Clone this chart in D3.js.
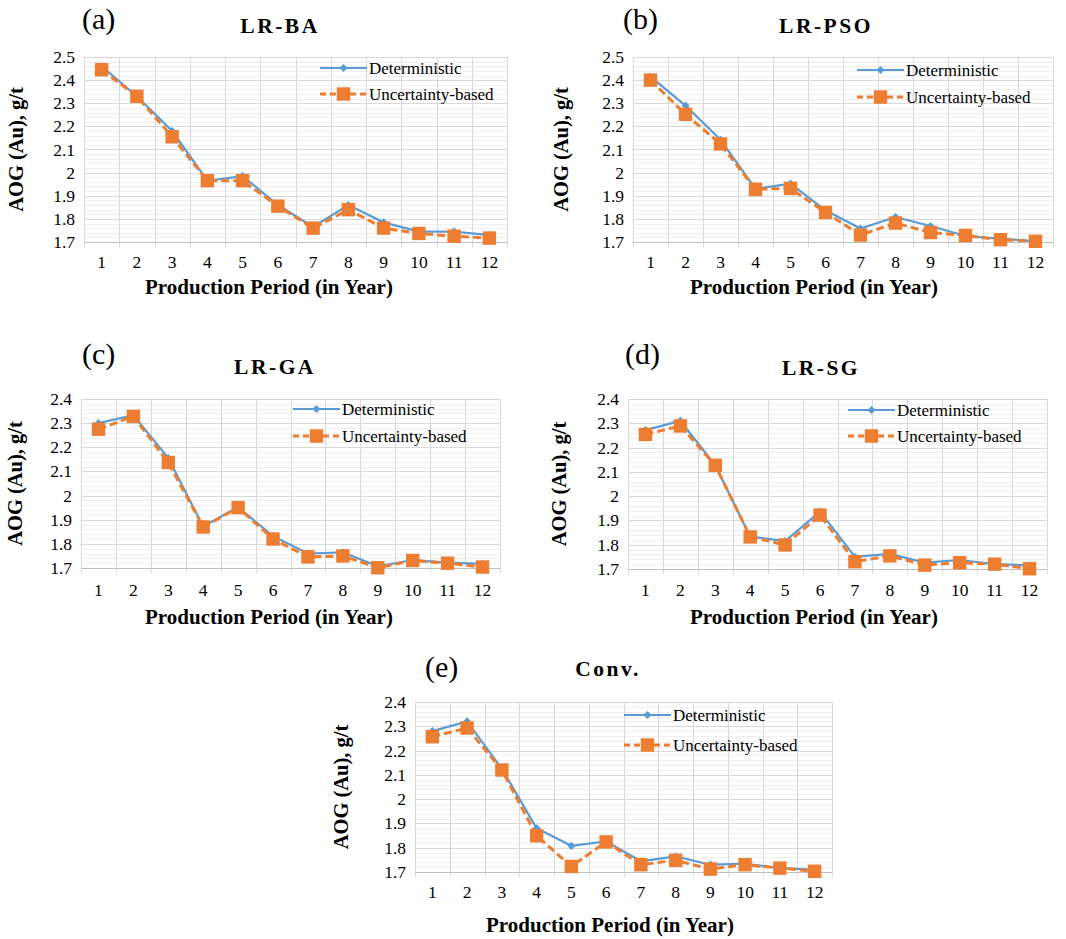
<!DOCTYPE html>
<html>
<head>
<meta charset="utf-8">
<script src="https://cdn.jsdelivr.net/npm/d3@7/dist/d3.min.js"></script>
<style>
  html, body { margin: 0; padding: 0; background: #ffffff; }
  svg { display: block; }
  text { font-family: "Liberation Serif", "Times New Roman", serif; fill: #000; }
</style>
</head>
<body>
<svg id="chart" width="1066" height="939" font-family="Liberation Serif"></svg>
<script>
// Production periods (years)
const periods = [1, 2, 3, 4, 5, 6, 7, 8, 9, 10, 11, 12];

// Average ore grade, Au (g/t), per method
const detBA  = [2.46, 2.33, 2.18, 1.965, 1.985, 1.86, 1.765, 1.86, 1.785, 1.745, 1.745, 1.73];
const uncBA  = [2.445, 2.33, 2.155, 1.965, 1.965, 1.855, 1.76, 1.84, 1.76, 1.737, 1.725, 1.717];

const detPSO = [2.415, 2.29, 2.142, 1.93, 1.952, 1.837, 1.758, 1.808, 1.769, 1.726, 1.714, 1.704];
const uncPSO = [2.40, 2.252, 2.124, 1.928, 1.932, 1.828, 1.73, 1.782, 1.741, 1.728, 1.71, 1.703];

const detGA  = [2.30, 2.333, 2.155, 1.872, 1.952, 1.832, 1.76, 1.765, 1.707, 1.733, 1.722, 1.717];
const uncGA  = [2.275, 2.328, 2.137, 1.87, 1.95, 1.82, 1.746, 1.75, 1.701, 1.731, 1.72, 1.704];

const detSG  = [2.272, 2.31, 2.127, 1.833, 1.815, 1.936, 1.75, 1.762, 1.726, 1.737, 1.72, 1.715];
const uncSG  = [2.254, 2.289, 2.127, 1.832, 1.799, 1.922, 1.73, 1.754, 1.716, 1.726, 1.72, 1.701];

const detConv = [2.28, 2.32, 2.125, 1.88, 1.808, 1.826, 1.744, 1.764, 1.73, 1.734, 1.716, 1.71];
const uncConv = [2.257, 2.293, 2.12, 1.849, 1.723, 1.824, 1.73, 1.748, 1.712, 1.73, 1.716, 1.703];

// Axis tick labels
const yTicks25 = ["1.7", "1.8", "1.9", "2", "2.1", "2.2", "2.3", "2.4", "2.5"];
const yTicks24 = ["1.7", "1.8", "1.9", "2", "2.1", "2.2", "2.3", "2.4"];

const seriesNames = ["Deterministic", "Uncertainty-based"];
const yTitle = "AOG (Au), g/t";
const xTitle = "Production Period (in Year)";

const COLOR_DET = "#5b9bd5";
const COLOR_UNC = "#ed7d31";

const svg = d3.select("#chart");

function drawPanel(p) {
  const g = svg.append("g");
  const yMin = +p.ticks[0];
  const yMax = +p.ticks[p.ticks.length - 1];

  const x = d3.scaleBand().domain(periods).range([p.left, p.right]);
  const y = d3.scaleLinear().domain([yMin, yMax]).range([p.bottom, p.top]);

  // minor horizontal grid
  const minor = d3.range(Math.round((yMax - yMin) / 0.02) + 1).map(i => yMin + i * 0.02);
  g.append("g").selectAll("line").data(minor).join("line")
    .attr("x1", p.left).attr("x2", p.right)
    .attr("y1", d => Math.round(y(d)) + 0.5).attr("y2", d => Math.round(y(d)) + 0.5)
    .attr("stroke", "#f0f0f0").attr("stroke-width", 1);

  // major horizontal grid
  g.append("g").selectAll("line").data(p.ticks.map(Number)).join("line")
    .attr("x1", p.left).attr("x2", p.right)
    .attr("y1", d => Math.round(y(d)) + 0.5).attr("y2", d => Math.round(y(d)) + 0.5)
    .attr("stroke", "#d9d9d9").attr("stroke-width", 1);

  // vertical grid at category boundaries (with tick marks below the axis)
  const bounds = periods.map(d => x(d)).concat([p.right]);
  g.append("g").selectAll("line").data(bounds).join("line")
    .attr("x1", d => Math.round(d) + 0.5).attr("x2", d => Math.round(d) + 0.5)
    .attr("y1", p.top).attr("y2", p.bottom + 5)
    .attr("stroke", "#d9d9d9").attr("stroke-width", 1);

  // x axis baseline
  g.append("line")
    .attr("x1", p.left).attr("x2", p.right)
    .attr("y1", Math.round(p.bottom) + 0.5).attr("y2", Math.round(p.bottom) + 0.5)
    .attr("stroke", "#bfbfbf");

  // y tick labels
  g.append("g").selectAll("text").data(p.ticks).join("text")
    .attr("x", p.left - 9).attr("y", d => y(+d) + 6)
    .attr("text-anchor", "end").attr("font-size", 17.5)
    .text(d => d);

  // x tick labels
  g.append("g").selectAll("text").data(periods).join("text")
    .attr("x", d => x(d) + x.bandwidth() / 2).attr("y", p.xTickY)
    .attr("text-anchor", "middle").attr("font-size", 17.5)
    .text(d => d);

  // axis titles
  g.append("text")
    .attr("transform", `translate(${p.yTitleX},${(p.top + p.bottom) / 2}) rotate(-90)`)
    .attr("text-anchor", "middle").attr("font-size", 20.5).attr("font-weight", "bold")
    .text(yTitle);
  g.append("text")
    .attr("x", p.xTitleX).attr("y", p.xTitleY)
    .attr("text-anchor", "middle").attr("font-size", 21).attr("font-weight", "bold")
    .text(xTitle);

  // panel letter and title
  g.append("text").attr("x", p.letterX).attr("y", p.letterY)
    .attr("font-size", 30).text(p.letter);
  g.append("text").attr("x", p.titleX).attr("y", p.titleY)
    .attr("text-anchor", "middle").attr("font-size", 21.5).attr("font-weight", "bold")
    .attr("letter-spacing", "2.5px")
    .text(p.title);

  const cx = d => x(d) + x.bandwidth() / 2;
  const line = vals => d3.line().x((d, i) => cx(periods[i])).y(d => y(d))(vals);
  const diamond = d3.symbol().type(d3.symbolSquare).size(34);
  const square = d3.symbol().type(d3.symbolSquare).size(180);

  // deterministic series
  g.append("path").attr("d", line(p.det))
    .attr("fill", "none").attr("stroke", COLOR_DET).attr("stroke-width", 2.2);
  g.append("g").selectAll("path").data(p.det).join("path")
    .attr("d", diamond)
    .attr("transform", (d, i) => `translate(${cx(periods[i])},${y(d)}) rotate(45)`)
    .attr("fill", COLOR_DET);

  // uncertainty-based series
  g.append("path").attr("d", line(p.unc))
    .attr("fill", "none").attr("stroke", COLOR_UNC).attr("stroke-width", 3)
    .attr("stroke-dasharray", "8,4");
  g.append("g").selectAll("path").data(p.unc).join("path")
    .attr("d", square)
    .attr("transform", (d, i) => `translate(${cx(periods[i])},${y(d)})`)
    .attr("fill", COLOR_UNC);

  // legend
  const lg = g.append("g");
  const lx = p.legendX, lw = 47;
  lg.append("line").attr("x1", lx).attr("x2", lx + lw)
    .attr("y1", p.legendY[0]).attr("y2", p.legendY[0])
    .attr("stroke", COLOR_DET).attr("stroke-width", 2.2);
  lg.append("path").attr("d", diamond)
    .attr("transform", `translate(${lx + lw / 2},${p.legendY[0]}) rotate(45)`)
    .attr("fill", COLOR_DET);
  lg.append("line").attr("x1", lx).attr("x2", lx + lw)
    .attr("y1", p.legendY[1]).attr("y2", p.legendY[1])
    .attr("stroke", COLOR_UNC).attr("stroke-width", 3).attr("stroke-dasharray", "6,4");
  lg.append("path").attr("d", square)
    .attr("transform", `translate(${lx + lw / 2},${p.legendY[1]})`)
    .attr("fill", COLOR_UNC);
  lg.selectAll("text").data(seriesNames).join("text")
    .attr("x", lx + lw + 2).attr("y", (d, i) => p.legendY[i] + 5.5)
    .attr("font-size", 17).text(d => d);
}

drawPanel({
  letter: "(a)", title: "LR-BA", det: detBA, unc: uncBA, ticks: yTicks25,
  left: 84, right: 507, top: 57, bottom: 242,
  titleX: 280, titleY: 33, letterX: 82, letterY: 29,
  legendX: 320, legendY: [68, 94],
  yTitleX: 23, xTickY: 268, xTitleX: 269, xTitleY: 294
});
drawPanel({
  letter: "(b)", title: "LR-PSO", det: detPSO, unc: uncPSO, ticks: yTicks25,
  left: 633, right: 1053, top: 57, bottom: 242,
  titleX: 826, titleY: 33, letterX: 623, letterY: 29,
  legendX: 857, legendY: [70, 97],
  yTitleX: 568, xTickY: 268, xTitleX: 814, xTitleY: 294
});
drawPanel({
  letter: "(c)", title: "LR-GA", det: detGA, unc: uncGA, ticks: yTicks24,
  left: 81, right: 500, top: 399, bottom: 568,
  titleX: 275, titleY: 374, letterX: 82, letterY: 364,
  legendX: 293, legendY: [409, 436],
  yTitleX: 22, xTickY: 596, xTitleX: 269, xTitleY: 624
});
drawPanel({
  letter: "(d)", title: "LR-SG", det: detSG, unc: uncSG, ticks: yTicks24,
  left: 628, right: 1047, top: 399, bottom: 569,
  titleX: 821, titleY: 375, letterX: 625, letterY: 364,
  legendX: 848, legendY: [410, 436],
  yTitleX: 566, xTickY: 596, xTitleX: 814, xTitleY: 624
});
drawPanel({
  letter: "(e)", title: "Conv.", det: detConv, unc: uncConv, ticks: yTicks24,
  left: 415, right: 832, top: 702, bottom: 872,
  titleX: 608, titleY: 676, letterX: 425, letterY: 677,
  legendX: 624, legendY: [715, 745],
  yTitleX: 348, xTickY: 898, xTitleX: 610, xTitleY: 932
});
</script>
</body>
</html>
